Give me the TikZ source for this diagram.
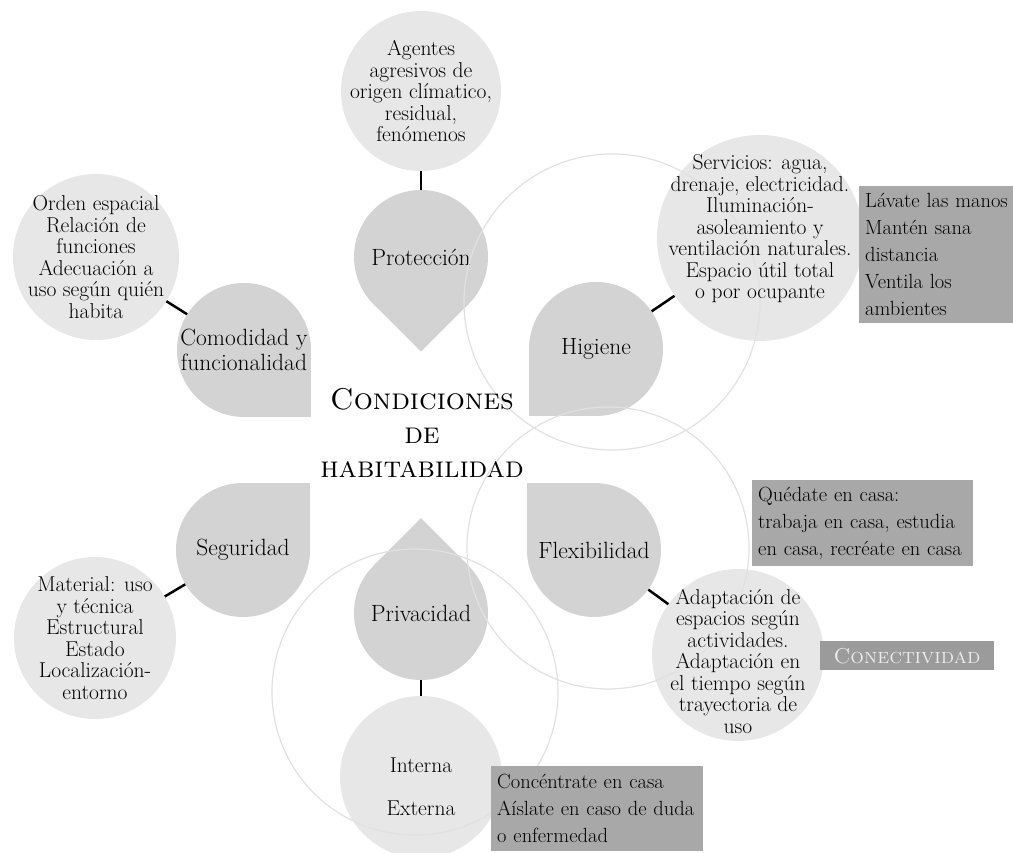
\documentclass[tikz,border=0pt]{standalone}
\definecolor{petalgray}{RGB}{211,211,211}
\definecolor{infogray}{RGB}{231,231,231}
\definecolor{notegray}{RGB}{168,168,168}
\definecolor{conegray}{RGB}{155,155,155}
\definecolor{ringgray}{RGB}{225,225,225}
\tikzset{
  petal/.style={circle,fill=petalgray,minimum size=134pt,inner sep=0pt},
  petaltext/.style={align=center,font=\fontsize{23.5}{25}\selectfont},
  info/.style={circle,fill=infogray,inner sep=0pt},
  infotext/.style={align=center,font=\fontsize{21.5}{21.5}\selectfont},
  note/.style={fill=notegray,anchor=north west,align=left,inner xsep=6pt,
    inner ysep=3pt,font=\fontsize{20.5}{27}\selectfont},
  link/.style={line width=2.5pt},
  ring/.style={draw=ringgray,line width=1.2pt}
}
\newcommand\petal[4]{%
  \fill[petalgray] (#2) -- ++({#3-45}:67) -- ++({#3+45}:67) -- ++({#3+135}:67) -- cycle;
  \node[petal] (#1) at (#2) {};
  \node[petaltext] (#1-t) at (#1) {#4};
}
\begin{document}
\begin{tikzpicture}[x=1pt,y=1pt]
  \useasboundingbox (0,0) rectangle (1013,853);
  \node[info,minimum size=160pt] (agen) at (421,762) {};
  \node[info,minimum size=166pt] (orden) at (96,596) {};
  \node[info,minimum size=206pt] (serv) at (760,615) {};
  \node[info,minimum size=162pt] (mat) at (95,215) {};
  \node[info,minimum size=172pt] (adap) at (738,198) {};
  \node[info,minimum size=162pt] (inter) at (421,76) {};

  \petal{prot}{421,596}{270}{Protección}
  \petal{como}{244,503}{-45}{Comodidad y\\funcionalidad}
  \petal{higi}{596,504}{225}{Higiene}
  \petal{segu}{243,303}{45}{Seguridad}
  \petal{flex}{594,303}{135}{Flexibilidad}
  \petal{priv}{421,240}{90}{Privacidad}

  \draw[link] (agen) -- (prot);
  \draw[link] (orden) -- (como);
  \draw[link] (serv) -- (higi);
  \draw[link] (mat) -- (segu);
  \draw[link] (adap) -- (flex);
  \draw[link] (inter) -- (priv);

  \draw[ring] (612,551) circle (148pt);
  \draw[ring] (608,305) circle (141pt);
  \draw[ring] (415,161) circle (143pt);

  \node[infotext] (agen-t) at (agen) {Agentes\\agresivos de\\origen clímatico,\\residual,\\fenómenos};
  \node[infotext] (orden-t) at (orden) {Orden espacial\\Relación de\\funciones\\Adecuación a\\uso según quién\\habita};
  \node[infotext] (serv-t) at ([yshift=9pt]serv) {Servicios: agua,\\drenaje, electricidad.\\Iluminación-\\asoleamiento y\\ventilación naturales.\\Espacio útil total\\o por ocupante};
  \node[infotext] (mat-t) at (mat) {Material: uso\\y técnica\\Estructural\\Estado\\Localización-\\entorno};
  \node[infotext] (adap-t) at ([yshift=-6pt]adap) {Adaptación de\\espacios según\\actividades.\\Adaptación en\\el tiempo según\\trayectoria de\\uso};
  \node[infotext] (inter-t) at (421,66) {Interna\\[21pt]Externa};

  \node[align=center,font=\fontsize{30}{34}\selectfont\scshape] (title) at (422,420) {Condiciones\\de\\habitabilidad};

  \node[note,text width=152pt,minimum height=137pt] (lava) at (859,667) {Lávate las manos\\Mantén sana\\distancia\\Ventila los\\ambientes};
  \node[note,text width=209pt,minimum height=86pt] (queda) at (752,373) {Quédate en casa:\\trabaja en casa, estudia\\en casa, recréate en casa};
  \node[note,text width=200pt,minimum height=85pt] (conc) at (491,87) {Concéntrate en casa\\Aíslate en caso de duda\\o enfermedad};
  \node[fill=conegray,text=white!92!black,minimum width=174pt,minimum height=29pt,
    inner sep=0pt,font=\fontsize{21.5}{22}\selectfont\scshape] (conec) at (907,197) {Conectividad};
\end{tikzpicture}
\end{document}
